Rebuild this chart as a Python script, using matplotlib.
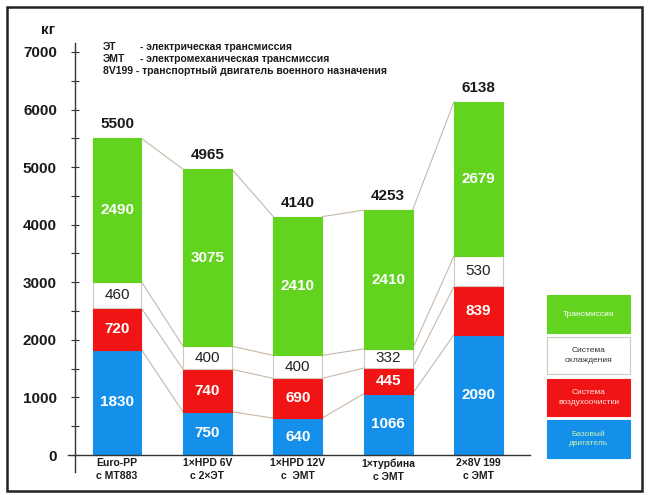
import matplotlib
matplotlib.use("Agg")
import matplotlib.pyplot as plt
from matplotlib.patches import Rectangle
from matplotlib.ticker import MultipleLocator
import numpy as np

plt.rcParams['font.family'] = ['Liberation Sans', 'DejaVu Sans']

# ---- data ----
categories = ["Euro-PP\nс МТ883", "1×HPD 6V\nс 2×ЭТ", "1×HPD 12V\nс  ЭМТ", "1×турбина\nс ЭМТ", "2×8V 199\nс ЭМТ"]
base_engine = [1830, 750, 640, 1066, 2090]        # Базовый двигатель
air_cleaning = [720, 740, 690, 445, 839]          # Система воздухоочистки
cooling = [460, 400, 400, 332, 530]               # Система охлаждения
transmission = [2490, 3075, 2410, 2410, 2679]     # Трансмиссия
totals = [5500, 4965, 4140, 4253, 6138]
series_names = ["Базовый\nдвигатель", "Система\nвоздухоочистки", "Система\nохлаждения", "Трансмиссия"]
notes_abbr = ["ЭТ", "ЭМТ"]
notes_text = ["- электрическая трансмиссия", "- электромеханическая трансмиссия"]
note_full = "8V199 - транспортный двигатель военного назначения"
y_unit = "кг"

# ---- style ----
c_blue = "#1590ea"
c_red = "#f01414"
c_white = "#ffffff"
c_green = "#62d31e"
colors = [c_blue, c_red, c_white, c_green]
label_colors = ["white", "white", "#222222", "white"]
link_color = "#c8b8a8"

W, H = 650, 495
fig = plt.figure(figsize=(W / 100, H / 100), dpi=100)
ax = fig.add_axes([75 / W, 1 - 472 / H, (530 - 75) / W, (472 - 43) / H])
ax.set_xlim(-0.465, 4.57)
ax.set_ylim(-295, 7156)

x = np.arange(len(categories))
bw = 0.54
layers = [base_engine, air_cleaning, cooling, transmission]
bottom = np.zeros(len(categories))
tops = []
for vals, col, lc in zip(layers, colors, label_colors):
    vals = np.array(vals, dtype=float)
    ec = "#d4c8bc" if col == c_white else col
    ax.bar(x, vals, bw, bottom=bottom, color=col, edgecolor=ec, linewidth=0.8, zorder=3)
    for xi, b, v in zip(x, bottom, vals):
        ax.text(xi, b + v / 2, f"{int(v)}", ha="center", va="center", color=lc,
                fontsize=11, fontweight="bold" if col != c_white else "normal", zorder=5)
    bottom = bottom + vals
    tops.append(bottom.copy())

# connecting lines between neighbouring bars
for lev in tops:
    for i in range(len(categories) - 1):
        ax.plot([x[i] + bw / 2, x[i + 1] - bw / 2], [lev[i], lev[i + 1]],
                color=link_color, lw=0.8, zorder=2)

# totals
for xi, top, t in zip(x, tops[-1], totals):
    ax.annotate(f"{t}", (xi, top), xytext=(0, 5), textcoords="offset points",
                ha="center", va="bottom", fontsize=11, fontweight="bold", color="#1a1a1a")

# category labels
for xi, cat in zip(x, categories):
    ax.text(xi, -55, cat, ha="center", va="top", fontsize=7.5, fontweight="bold",
            color="#1a1a1a", linespacing=1.4, clip_on=False)

# axes styling
for s in ["top", "right", "bottom"]:
    ax.spines[s].set_visible(False)
ax.spines["left"].set_color("#333333")
ax.spines["left"].set_linewidth(1)
ax.plot([-0.54, 4.57], [0, 0], color="#333333", lw=1, clip_on=False, zorder=4)
ax.set_xticks([])
ax.yaxis.set_major_locator(MultipleLocator(1000))
ax.yaxis.set_minor_locator(MultipleLocator(500))
ax.set_yticks(np.arange(0, 7001, 1000))
ax.tick_params(axis="y", which="both", direction="inout", length=6, width=0.8,
               color="#333333", pad=10, labelsize=11, labelcolor="#1a1a1a")
for lab in ax.get_yticklabels():
    lab.set_fontweight("bold")

# unit label
fig.text(48 / W, 1 - 30 / H, y_unit, ha="center", va="center", fontsize=11,
         fontweight="bold", color="#1a1a1a")

# notes
for k, (a, t) in enumerate(zip(notes_abbr, notes_text)):
    yy = 1 - (47 + 12 * k) / H
    fig.text(103 / W, yy, a, ha="left", va="center", fontsize=7.5, fontweight="bold", color="#1a1a1a")
    fig.text(140 / W, yy, t, ha="left", va="center", fontsize=7.5, fontweight="bold", color="#1a1a1a")
fig.text(103 / W, 1 - 71 / H, note_full, ha="left", va="center", fontsize=7.5,
         fontweight="bold", color="#1a1a1a")

# legend boxes (top to bottom: transmission, cooling, air cleaning, base engine)
boxes = [(295, 333), (337, 374), (379, 416), (420, 458)]
leg_colors = [c_green, c_white, c_red, c_blue]
leg_text_colors = ["white", "#333333", "#ffe4e4", "#c8f0b0"]
for (y0, y1), name, col, tc in zip(boxes, series_names[::-1], leg_colors, leg_text_colors):
    ec = "#d4c8bc" if col == c_white else col
    fig.patches.append(Rectangle((547 / W, 1 - y1 / H), (630 - 547) / W, (y1 - y0) / H,
                                 transform=fig.transFigure, facecolor=col, edgecolor=ec, lw=0.8))
    fig.text(588.5 / W, 1 - (y0 + y1) / 2 / H, name, ha="center", va="center",
             fontsize=6, color=tc, linespacing=1.4)

# frame
fig.patches.append(Rectangle((7 / W, 1 - 491 / H), (642 - 7) / W, (491 - 7) / H,
                             transform=fig.transFigure, facecolor="none",
                             edgecolor="#222222", lw=1.8))

fig.savefig("out.png", dpi=100)
